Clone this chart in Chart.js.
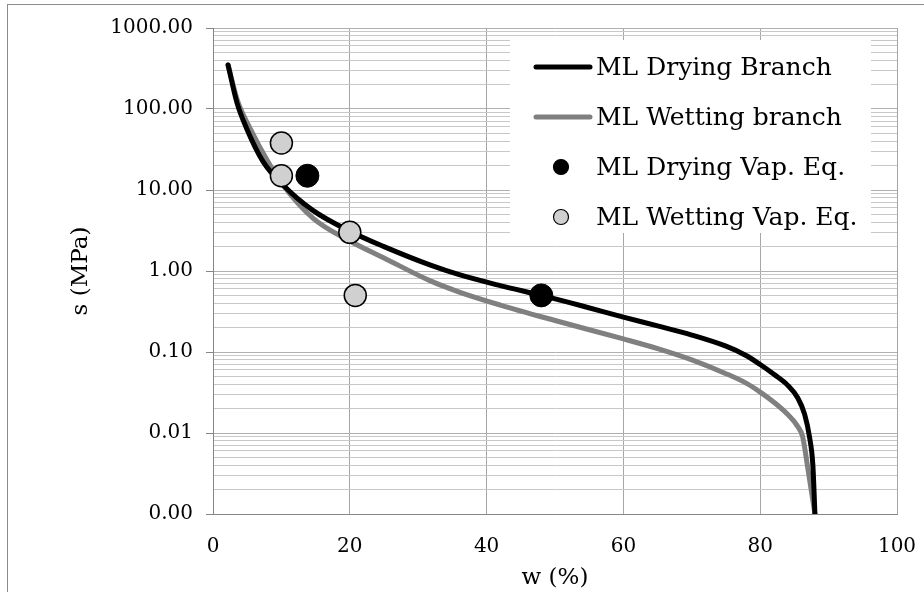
<!DOCTYPE html>
<html>
<head>
<meta charset="utf-8">
<script src="https://cdn.jsdelivr.net/npm/chart.js@4/dist/chart.umd.min.js"></script>
<style>
  html, body { margin: 0; padding: 0; background: #fff; }
  canvas { display: block; }
</style>
</head>
<body>
<canvas id="chart" width="924" height="592"></canvas>
<script>
// s (MPa) versus w (%) - drying / wetting branches
const dryingW = [2.2, 3.5, 4.9, 7.3, 10.2, 14.6, 20, 25, 31.7, 36, 42, 48, 54, 60, 65, 70, 75, 78, 80, 82, 84, 85.5, 86.5, 87.2, 87.7, 88];
const dryingS = [350, 120, 58, 22.6, 11.6, 5.6, 3.1, 2.0, 1.19, 0.9, 0.66, 0.5, 0.37, 0.27, 0.21, 0.162, 0.118, 0.09, 0.07, 0.053, 0.039, 0.027, 0.017, 0.009, 0.004, 0.001];

const wettingW = [2.2, 3.6, 5.4, 8.0, 10.2, 14.6, 20, 25, 31.7, 36, 42, 50, 60, 65, 70, 75, 78, 80, 82, 84, 85.5, 86.2, 87, 88];
const wettingS = [350, 125, 58, 22.6, 11.6, 4.5, 2.35, 1.45, 0.76, 0.55, 0.38, 0.245, 0.145, 0.11, 0.08, 0.054, 0.041, 0.032, 0.024, 0.017, 0.012, 0.009, 0.0035, 0.001];

const dryVapW = [13.8, 48];
const dryVapS = [15, 0.5];
const wetVapW = [10, 10, 20, 20.8];
const wetVapS = [38, 15, 3, 0.5];

const seriesLabels = ['ML Drying Branch', 'ML Wetting branch', 'ML Drying Vap. Eq.', 'ML Wetting Vap. Eq.'];
const yDecades = [0.001, 0.01, 0.1, 1, 10, 100, 1000];
const yMinorSteps = [2, 3, 4, 5, 6, 7, 8, 9];
const xTicks = [0, 20, 40, 60, 80, 100];

const pts = (xs, ys) => xs.map((x, i) => ({ x: x, y: ys[i] }));

const yTickValues = [];
yDecades.forEach((d, i) => {
  yTickValues.push(d);
  if (i < yDecades.length - 1) yMinorSteps.forEach(m => yTickValues.push(d * m));
});
const isDecade = v => Math.abs(Math.log10(v) - Math.round(Math.log10(v))) < 1e-6;

const FONT = 'DejaVu Serif';

// frame + legend box, drawn by hand so the legend can sit inside the plot
const framePlugin = {
  id: 'frame',
  beforeDraw(chart) {
    const c = chart.ctx;
    c.save();
    c.fillStyle = '#fff';
    c.fillRect(0, 0, chart.width, chart.height);
    c.strokeStyle = '#8c8c8c';
    c.lineWidth = 1;
    c.strokeRect(7.5, 4.5, chart.width, chart.height);
    c.restore();
  },
  afterDraw(chart) {
    const c = chart.ctx;
    const x0 = 510, y0 = 40, w = 361, h = 193;
    c.save();
    c.fillStyle = '#fff';
    c.fillRect(x0, y0, w, h);
    c.font = '25px "' + FONT + '"';
    c.textBaseline = 'middle';
    chart.data.datasets.forEach((ds, i) => {
      const y = 67 + i * 50;
      if (ds.showLine) {
        c.strokeStyle = ds.borderColor;
        c.lineWidth = 5;
        c.lineCap = 'round';
        c.beginPath();
        c.moveTo(536, y);
        c.lineTo(590, y);
        c.stroke();
      } else {
        c.beginPath();
        c.arc(561, y, 7.5, 0, Math.PI * 2);
        c.fillStyle = ds.backgroundColor;
        c.fill();
        c.strokeStyle = ds.borderColor;
        c.lineWidth = 1.2;
        c.stroke();
      }
      c.fillStyle = '#000';
      c.fillText(ds.label, 596, y + 1);
    });
    c.restore();
  }
};

new Chart(document.getElementById('chart'), {
  type: 'scatter',
  data: {
    datasets: [
      {
        label: seriesLabels[0],
        data: pts(dryingW, dryingS),
        showLine: true,
        borderColor: '#000000',
        borderWidth: 5,
        pointRadius: 0,
        cubicInterpolationMode: 'monotone',
        borderCapStyle: 'round',
        order: 1
      },
      {
        label: seriesLabels[1],
        data: pts(wettingW, wettingS),
        showLine: true,
        borderColor: '#808080',
        borderWidth: 5,
        pointRadius: 0,
        cubicInterpolationMode: 'monotone',
        borderCapStyle: 'round',
        order: 2
      },
      {
        label: seriesLabels[2],
        data: pts(dryVapW, dryVapS),
        showLine: false,
        backgroundColor: '#000000',
        borderColor: '#000000',
        borderWidth: 1,
        pointRadius: 11.5,
        order: 0
      },
      {
        label: seriesLabels[3],
        data: pts(wetVapW, wetVapS),
        showLine: false,
        backgroundColor: '#d0d0d0',
        borderColor: '#000000',
        borderWidth: 1.5,
        pointRadius: 11,
        order: 0
      }
    ]
  },
  options: {
    responsive: false,
    animation: false,
    devicePixelRatio: 1,
    layout: { padding: { left: 63, top: 28, right: 27, bottom: 0 } },
    plugins: {
      legend: { display: false },
      tooltip: { enabled: false }
    },
    scales: {
      x: {
        type: 'linear',
        min: 0,
        max: 100,
        afterBuildTicks: s => { s.ticks = xTicks.map(v => ({ value: v })); },
        afterFit: s => { s.height = 78; s.paddingLeft = 0; s.paddingRight = 0; },
        ticks: { color: '#000', font: { family: FONT, size: 20 }, padding: 21, maxRotation: 0 },
        grid: { color: '#a6a6a6', drawTicks: false },
        border: { color: '#868686' },
        title: { display: true, text: 'w (%)', color: '#000', font: { family: FONT, size: 23 }, padding: { top: 0, bottom: 0 } }
      },
      y: {
        type: 'logarithmic',
        min: 0.001,
        max: 1000,
        afterBuildTicks: s => { s.ticks = yTickValues.map(v => ({ value: v })); },
        afterFit: s => { s.width = 150; s.paddingTop = 0; s.paddingBottom = 0; },
        ticks: {
          autoSkip: false,
          color: '#000',
          font: { family: FONT, size: 20 },
          padding: 13,
          callback: v => isDecade(v) ? v.toFixed(2) : ''
        },
        grid: {
          color: ctx => (ctx.tick && isDecade(ctx.tick.value)) ? '#b0b0b0' : '#c8c8c8',
          tickColor: ctx => (ctx.tick && isDecade(ctx.tick.value)) ? '#868686' : 'rgba(0,0,0,0)',
          tickLength: 7
        },
        border: { color: '#868686' },
        title: { display: true, text: 's (MPa)', color: '#000', font: { family: FONT, size: 23 }, padding: { top: 4, bottom: 4 } }
      }
    }
  },
  plugins: [framePlugin]
});
</script>
</body>
</html>
